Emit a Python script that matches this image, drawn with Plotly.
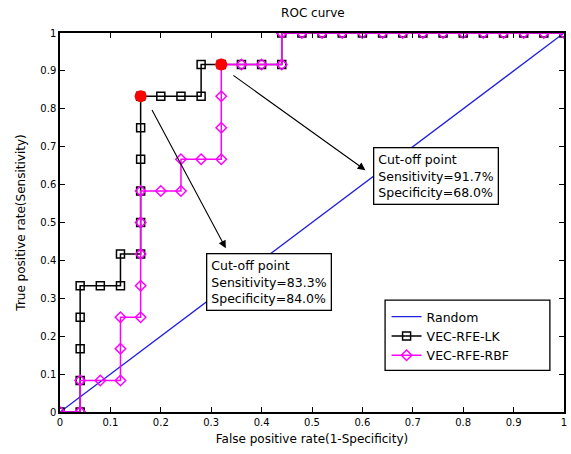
import plotly.graph_objects as go

# ROC points (false positive rate, true positive rate)
lk_fpr = [0, 0.04, 0.04, 0.04, 0.04, 0.04, 0.08, 0.12, 0.12, 0.16, 0.16, 0.16, 0.16, 0.16, 0.16,
          0.20, 0.24, 0.28, 0.28, 0.32, 0.36, 0.40, 0.44, 0.44, 0.48, 0.52, 0.56, 0.60, 0.64,
          0.68, 0.72, 0.76, 0.80, 0.84, 0.88, 0.92, 0.96, 1.0]
lk_tpr = [0, 0, 0.083, 0.167, 0.25, 0.333, 0.333, 0.333, 0.417, 0.417, 0.5, 0.583, 0.667, 0.75, 0.833,
          0.833, 0.833, 0.833, 0.917, 0.917, 0.917, 0.917, 0.917, 1, 1, 1, 1, 1, 1,
          1, 1, 1, 1, 1, 1, 1, 1, 1]

rbf_fpr = [0, 0.04, 0.04, 0.08, 0.12, 0.12, 0.12, 0.16, 0.16, 0.16, 0.16, 0.16, 0.20, 0.24, 0.24,
           0.28, 0.32, 0.32, 0.32, 0.32, 0.36, 0.40, 0.44, 0.44, 0.48, 0.52, 0.56, 0.60, 0.64,
           0.68, 0.72, 0.76, 0.80, 0.84, 0.88, 0.92, 0.96, 1.0]
rbf_tpr = [0, 0, 0.083, 0.083, 0.083, 0.167, 0.25, 0.25, 0.333, 0.417, 0.5, 0.583, 0.583, 0.583, 0.667,
           0.667, 0.667, 0.75, 0.833, 0.917, 0.917, 0.917, 0.917, 1, 1, 1, 1, 1, 1,
           1, 1, 1, 1, 1, 1, 1, 1, 1]

random_x = [0, 1]
random_y = [0, 1]

# optimal cut-off points
cut_fpr = [0.16, 0.32]
cut_tpr = [0.833, 0.917]
cut_labels = [
    "Cut-off point<br>Sensitivity=83.3%<br>Specificity=84.0%",
    "Cut-off point<br>Sensitivity=91.7%<br>Specificity=68.0%",
]

FONT = "DejaVu Sans, Verdana, sans-serif"

fig = go.Figure()
fig.add_trace(go.Scatter(x=random_x, y=random_y, mode="lines", name="Random",
                         line=dict(color="#1f1fe0", width=1.3)))
fig.add_trace(go.Scatter(x=lk_fpr, y=lk_tpr, mode="lines+markers", name="VEC-RFE-LK",
                         line=dict(color="black", width=1.5),
                         marker=dict(symbol="square-open", size=8, color="black",
                                     line=dict(width=1.5))))
fig.add_trace(go.Scatter(x=rbf_fpr, y=rbf_tpr, mode="lines+markers", name="VEC-RFE-RBF",
                         line=dict(color="#ff00ff", width=1.5),
                         marker=dict(symbol="diamond-open", size=8, color="#ff00ff",
                                     line=dict(width=1.5))))
fig.add_trace(go.Scatter(x=cut_fpr, y=cut_tpr, mode="markers", showlegend=False,
                         marker=dict(symbol="circle", size=12, color="#ff0000")))

# arrows from cut-off points to their text boxes
arrow_tail = [(0.181, 0.801), (0.341, 0.891)]
arrow_head = [(0.329, 0.432), (0.606, 0.638)]
for (tx, ty), (hx, hy) in zip(arrow_tail, arrow_head):
    fig.add_annotation(x=hx, y=hy, ax=tx, ay=ty, xref="x", yref="y", axref="x", ayref="y",
                       text="", showarrow=True, arrowhead=2, arrowsize=1.4,
                       arrowwidth=1.1, arrowcolor="black")

box_pos = [(0.290, 0.342), (0.621, 0.622)]
for (bx, by), label in zip(box_pos, cut_labels):
    fig.add_annotation(x=bx, y=by, xref="x", yref="y", xanchor="left", yanchor="middle",
                       text=label, showarrow=False, align="left",
                       font=dict(family=FONT, size=12.5, color="black"),
                       bordercolor="black", borderwidth=1.3, borderpad=4,
                       bgcolor="white")

# frame drawn around the legend entries
fig.add_shape(type="rect", xref="paper", yref="paper", x0=0.645, x1=0.972, y0=0.110, y1=0.295,
              line=dict(color="black", width=1.3), fillcolor="white", layer="below")

axis_common = dict(range=[0, 1], dtick=0.1, ticks="inside", ticklen=5, tickwidth=1.2,
                   tickcolor="black", showline=True, linecolor="black", linewidth=1.5,
                   mirror="ticks", showgrid=False, zeroline=False,
                   tickfont=dict(family=FONT, size=10, color="black"))

fig.update_xaxes(title=dict(text="False positive rate(1-Specificity)",
                            font=dict(family=FONT, size=12, color="black"), standoff=8),
                 **axis_common)
fig.update_yaxes(title=dict(text="True positive rate(Sensitivity)",
                            font=dict(family=FONT, size=12, color="black"), standoff=12),
                 **axis_common)

fig.update_layout(
    width=571, height=454,
    margin=dict(l=60, r=4, t=33, b=42),
    paper_bgcolor="white", plot_bgcolor="white",
    title=dict(text="ROC curve", x=0.548, xanchor="center", y=0.972, yanchor="middle",
               font=dict(family=FONT, size=12, color="black")),
    legend=dict(x=0.648, y=0.29, xanchor="left", yanchor="top",
                borderwidth=0, bgcolor="rgba(0,0,0,0)",
                font=dict(family=FONT, size=12.5, color="black"),
                tracegroupgap=0),
    showlegend=True,
)

fig.write_html("out.html")
